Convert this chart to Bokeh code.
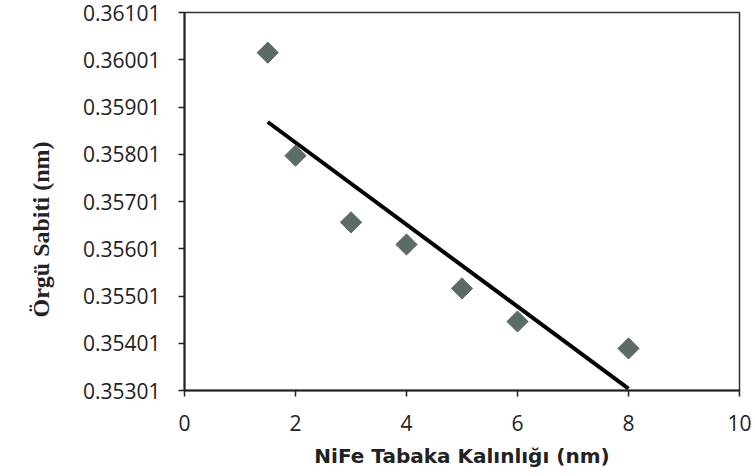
import numpy as np
from bokeh.plotting import figure
from bokeh.models import Range1d, FixedTicker, Title
from bokeh.embed import file_html
from bokeh.resources import INLINE

# Data
thickness_nm = [1.5, 2, 3, 4, 5, 6, 8]
lattice_nm = [0.36016, 0.35798, 0.35657, 0.35610, 0.35517, 0.35447, 0.35390]
x_ticks = [0, 2, 4, 6, 8, 10]
y_ticks = [0.35301, 0.35401, 0.35501, 0.35601, 0.35701, 0.35801, 0.35901, 0.36001, 0.36101]

# linear trend line fitted to the data
slope, intercept = np.polyfit(thickness_nm, lattice_nm, 1)
trend_x = [min(thickness_nm), max(thickness_nm)]
trend_y = [slope * v + intercept for v in trend_x]

p = figure(width=755, height=476, output_backend="svg", toolbar_location=None,
           x_range=Range1d(0, 10), y_range=Range1d(0.35301, 0.36101),
           min_border_left=183, min_border_right=16, min_border_top=12, min_border_bottom=86)

p.line(trend_x, trend_y, line_color="black", line_width=4)
p.scatter(thickness_nm, lattice_nm, marker="square", size=15, angle=np.pi / 4,
          fill_color="#5b6b67", line_color="#5b6b67")

p.xgrid.visible = False
p.ygrid.visible = False
p.outline_line_color = "#333333"
p.outline_line_width = 1.5
p.background_fill_color = "white"
p.border_fill_color = "white"

for ax in (p.xaxis[0], p.yaxis[0]):
    ax.axis_line_color = "#222222"
    ax.axis_line_width = 2
    ax.major_tick_line_color = "#222222"
    ax.major_tick_line_width = 1.5
    ax.major_tick_out = 6
    ax.major_tick_in = 0
    ax.minor_tick_line_color = None
    ax.major_label_text_font = "Open Sans"
    ax.major_label_text_font_size = "21px"
    ax.major_label_text_color = "#222222"

p.xaxis.ticker = FixedTicker(ticks=x_ticks)
p.yaxis.ticker = FixedTicker(ticks=y_ticks)
p.yaxis.major_label_overrides = {t: f"{t:.5f}" for t in y_ticks}
p.xaxis.major_label_standoff = 18
p.yaxis.major_label_standoff = 18

p.xaxis.axis_label = "NiFe Tabaka Kalınlığı (nm)"
p.xaxis.axis_label_text_font = "DejaVu Sans"
p.xaxis.axis_label_text_font_style = "bold"
p.xaxis.axis_label_text_font_size = "20px"
p.xaxis.axis_label_text_color = "#222222"
p.xaxis.axis_label_standoff = 10

# y-axis title as a left-side title (sits a little below the frame centre in the reference)
p.add_layout(Title(text="Örgü Sabiti (nm)", align="left", offset=73, standoff=51,
                   text_font="Liberation Serif", text_font_style="bold",
                   text_font_size="24px", text_color="#222222"), "left")

open("out.html", "w").write(file_html(p, INLINE))
